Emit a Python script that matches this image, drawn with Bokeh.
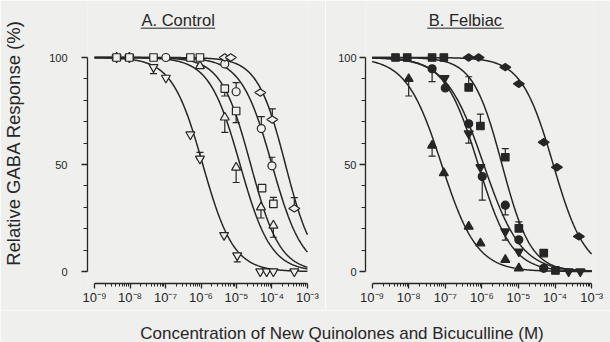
import numpy as np
from bokeh.plotting import figure
from bokeh.models import FixedTicker, Whisker, TeeHead, ColumnDataSource, Label, Range1d, Arrow
from bokeh.layouts import row, column
from bokeh.embed import file_html
from bokeh.resources import INLINE

BG = "#efefed"
INK = "#262626"
FONT = "Liberation Sans"

# ---- tick labels ----
decades = [-9, -8, -7, -6, -5, -4, -3]
decade_labels = ["10⁻⁹", "10⁻⁸", "10⁻⁷", "10⁻⁶", "10⁻⁵", "10⁻⁴", "10⁻³"]
y_major = [0, 50, 100]
y_minor = [10, 20, 30, 40, 60, 70, 80, 90]

# ---- A. Control (log10 molar concentration, % response, one-sided error) ----
ctrl_names = ["inverted_triangle", "triangle", "square", "circle", "diamond"]
ctrl_tri_down_x = [-8.38, -8.02, -7.34, -6.99, -6.30, -6.03, -5.35, -4.98, -4.33, -4.15, -3.96, -3.37]
ctrl_tri_down_y = [100, 100, 95.5, 90.5, 64, 52.7, 17, 7.5, 0, 0, 0, 0]
ctrl_tri_down_e = [0, 0, -3, 0, 0, 3, 0, -3, 0, 0, 0, 0]
ctrl_tri_up_x = [-8.38, -8.02, -6.03, -5.33, -5.01, -4.31, -3.96]
ctrl_tri_up_y = [100, 100, 96, 72, 48.6, 30, 21.5]
ctrl_tri_up_e = [0, 0, 3, -7, -7, -5, -5.5]
ctrl_square_x = [-8.38, -8.02, -7.34, -6.30, -6.03, -5.33, -5.01, -4.28, -3.96]
ctrl_square_y = [100, 100, 100, 100, 100, 85.5, 75, 39, 31.6]
ctrl_square_e = [0, 0, 0, 0, 0, -3.5, -5.4, 0, 3]
ctrl_circle_x = [-6.99, -5.33, -5.01, -4.30, -4.00]
ctrl_circle_y = [100, 97, 84, 66.8, 49.4]
ctrl_circle_e = [0, 0, 4.3, 5.6, 4]
ctrl_diamond_x = [-5.33, -5.16, -4.33, -3.99, -3.37]
ctrl_diamond_y = [100, 100, 83.6, 71, 29.5]
ctrl_diamond_e = [0, 0, 0, 5, 5]
# fitted curves (log IC50, Hill coefficient)
ctrl_ic50 = [-5.95, -4.9, -4.6, -4.0, -3.62]
ctrl_hill = [1.0, 1.0, 1.05, 1.0, 1.1]

# ---- B. Felbiac ----
felb_names = ["triangle", "inverted_triangle", "circle", "square", "diamond"]
felb_tri_up_x = [-8.0, -7.36, -7.04, -6.36, -6.04, -5.36, -4.99]
felb_tri_up_y = [90, 58.9, 46, 21, 13.2, 5.5, 1.5]
felb_tri_up_e = [-8, -5, 0, 0, 0, 0, 0]
felb_tri_down_x = [-7.02, -6.36, -6.04, -5.36, -4.99, -3.63, -3.31]
felb_tri_down_y = [90.3, 64.5, 48.7, 18.7, 9.3, 0, 0]
felb_tri_down_e = [0, -4.5, 0, -4, 0, 0, 0]
felb_circle_x = [-7.36, -7.0, -6.36, -5.99, -5.36, -4.99, -4.31]
felb_circle_y = [94.7, 85.8, 69, 44.4, 31, 14.8, 1.5]
felb_circle_e = [-6, 0, 0, -11, -4.5, 0, 0]
felb_square_x = [-8.36, -8.04, -7.36, -7.04, -6.36, -6.04, -5.36, -4.99, -4.31, -3.99]
felb_square_y = [100, 100, 100, 100, 86, 68, 53.4, 20.2, 8.6, 0.5]
felb_square_e = [0, 0, 0, 0, 5, 5.5, 4, 3, 0, 0]
felb_diamond_x = [-6.36, -6.09, -5.36, -4.99, -4.31, -3.95, -3.35]
felb_diamond_y = [100, 100, 95.5, 87.7, 60.4, 48.7, 16.4]
felb_diamond_e = [0, 0, 0, 0, 0, 0, 0]
felb_ic50 = [-7.1, -6.1, -5.95, -5.45, -4.05]
felb_hill = [0.9, 0.95, 0.85, 1.1, 1.0]

ctrl_series = [
    (ctrl_tri_down_x, ctrl_tri_down_y, ctrl_tri_down_e),
    (ctrl_tri_up_x, ctrl_tri_up_y, ctrl_tri_up_e),
    (ctrl_square_x, ctrl_square_y, ctrl_square_e),
    (ctrl_circle_x, ctrl_circle_y, ctrl_circle_e),
    (ctrl_diamond_x, ctrl_diamond_y, ctrl_diamond_e),
]
felb_series = [
    (felb_tri_up_x, felb_tri_up_y, felb_tri_up_e),
    (felb_tri_down_x, felb_tri_down_y, felb_tri_down_e),
    (felb_circle_x, felb_circle_y, felb_circle_e),
    (felb_square_x, felb_square_y, felb_square_e),
    (felb_diamond_x, felb_diamond_y, felb_diamond_e),
]

SIZES = {"inverted_triangle": 9, "triangle": 9, "square": 7.5, "circle": 8, "diamond": 11}


def make_panel(title, t_x, t_x0, t_x1, names, series, ic50s, hills, filled,
               width, left_border, x0, x1, ystandoff, ylabel=None):
    p = figure(width=width, height=310, x_range=Range1d(x0, x1), y_range=Range1d(-5.6, 125.7),
               output_backend="svg", toolbar_location=None,
               min_border_left=left_border, min_border_right=17, min_border_top=2, min_border_bottom=27)
    p.background_fill_color = BG
    p.border_fill_color = BG
    p.outline_line_color = None
    p.grid.visible = False

    xa = p.xaxis[0]
    xa.ticker = FixedTicker(ticks=decades,
                            minor_ticks=[d + np.log10(k) for d in decades[:-1] for k in range(2, 10)])
    xa.major_label_overrides = {d: s for d, s in zip(decades, decade_labels)}
    xa.bounds = (-9, -3)
    xa.major_tick_out = 5
    xa.major_tick_in = 0
    xa.minor_tick_out = 3
    xa.minor_tick_in = 0
    xa.major_label_standoff = 1
    xa.major_label_text_font = FONT
    xa.major_label_text_font_size = "13px"
    xa.major_label_text_color = INK

    ya = p.yaxis[0]
    ya.ticker = FixedTicker(ticks=y_major, minor_ticks=y_minor)
    ya.bounds = (0, 100)
    ya.major_tick_out = 6
    ya.major_tick_in = 0
    ya.minor_tick_out = 4
    ya.minor_tick_in = 0
    ya.major_label_standoff = ystandoff
    ya.major_label_text_font = FONT
    ya.major_label_text_font_size = "11px"
    ya.major_label_text_color = INK
    if ylabel:
        ya.axis_label = ylabel
        ya.axis_label_text_font = FONT
        ya.axis_label_text_font_size = "18.5px"
        ya.axis_label_text_font_style = "normal"
        ya.axis_label_text_color = INK
        ya.axis_label_standoff = 22

    for ax in (xa, ya):
        ax.axis_line_color = INK
        ax.axis_line_width = 1.3
        ax.major_tick_line_color = INK
        ax.major_tick_line_width = 1.3
        ax.minor_tick_line_color = INK
        ax.minor_tick_line_width = 1.0

    xs = np.linspace(-9, -3, 300)
    for ic, h in zip(ic50s, hills):
        p.line(xs, 100.0 / (1.0 + 10 ** (h * (xs - ic))), line_color=INK, line_width=1.5)

    for name, (x, y, e) in zip(names, series):
        wx = [xi for xi, ei in zip(x, e) if ei != 0]
        wu = [yi + max(ei, 0) for yi, ei in zip(y, e) if ei != 0]
        wl = [yi + min(ei, 0) for yi, ei in zip(y, e) if ei != 0]
        if wx:
            src = ColumnDataSource(dict(x=wx, upper=wu, lower=wl))
            w = Whisker(source=src, base="x", upper="upper", lower="lower", dimension="height",
                        line_color=INK, line_width=1.2, level="underlay",
                        upper_head=TeeHead(size=7, line_color=INK, line_width=1.2),
                        lower_head=TeeHead(size=7, line_color=INK, line_width=1.2))
            p.add_layout(w)
        p.scatter(x, y, marker=name, size=SIZES[name], angle=(np.pi / 2 if name == "diamond" else 0),
                  fill_color=(INK if filled else BG), line_color=INK, line_width=1.2)

    # panel title with underline
    p.add_layout(Label(x=t_x, y=117.5, text=title, anchor="center",
                       text_font=FONT, text_font_size="16.5px", text_color=INK))
    p.add_layout(Arrow(x_start=t_x0, y_start=113.7, x_end=t_x1, y_end=113.7, end=None,
                       line_color=INK, line_width=1))
    return p


p1 = make_panel("A. Control", -6.645, -7.70, -5.60, ctrl_names, ctrl_series, ctrl_ic50, ctrl_hill, False,
                325, 80, -9.2, -2.97, 14, ylabel="Relative GABA Response (%)")
p2 = make_panel("B. Felbiac", -6.45, -7.494, -5.40, felb_names, felb_series, felb_ic50, felb_hill, True,
                285, 40, -9.18, -2.95, 3)

p3 = figure(width=610, height=32, x_range=Range1d(0, 610), y_range=Range1d(0, 32),
            output_backend="svg", toolbar_location=None, x_axis_location=None, y_axis_location=None,
            min_border=0, min_border_left=0, min_border_right=0, min_border_top=0, min_border_bottom=0)
p3.background_fill_color = BG
p3.border_fill_color = BG
p3.outline_line_color = None
p3.grid.visible = False
p3.add_layout(Label(x=341.5, y=9, text="Concentration of New Quinolones and Bicuculline (M)",
                    anchor="center", text_font=FONT,
                    text_font_size="17px", text_color=INK))

layout = column(row(p1, p2), p3)
open("out.html", "w").write(file_html(layout, INLINE))
